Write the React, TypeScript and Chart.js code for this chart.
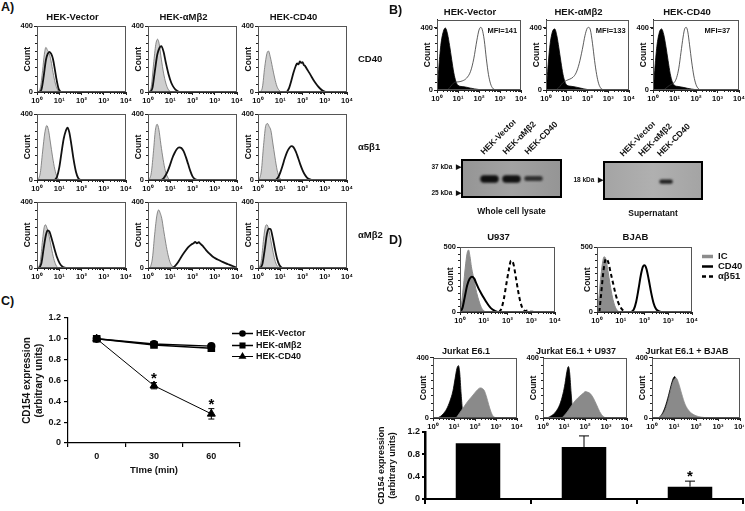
import React, { useEffect, useRef } from 'react';
import { Chart, registerables } from 'chart.js';

Chart.register(...registerables);

const FONT = '"Liberation Sans", Arial, Helvetica, sans-serif';
Chart.defaults.font.family = FONT;
(Chart.defaults.font as any).weight = 'bold';
Chart.defaults.color = '#111';

type Pt = [number, number];

// ---------------- DATA ----------------
const DECADES = [0, 1, 2, 3, 4];
const DECADE_LABELS = ['10⁰', '10¹', '10²', '10³', '10⁴'];

const A_COLUMNS = ['HEK-Vector', 'HEK-αMβ2', 'HEK-CD40'];
const A_ROWS = ['CD40', 'α5β1', 'αMβ2'];
const A_Y_TICKS = [0, 400];

// Panel A, row CD40
const A1_VEC_IC: Pt[] = [[0.05,0],[0.15,25],[0.25,130],[0.33,230],[0.4,272],[0.47,255],[0.55,235],[0.63,190],[0.72,120],[0.82,55],[0.92,15],[1.0,0]];
const A1_VEC_AB: Pt[] = [[0.1,0],[0.2,15],[0.3,95],[0.4,195],[0.48,232],[0.56,245],[0.64,232],[0.72,200],[0.8,140],[0.88,75],[0.96,25],[1.06,0]];
const A1_AMB2_IC: Pt[] = [[0.05,0],[0.15,35],[0.25,170],[0.35,290],[0.43,322],[0.5,295],[0.6,200],[0.7,115],[0.8,55],[0.9,18],[1.02,0]];
const A1_AMB2_AB: Pt[] = [[0.1,0],[0.2,25],[0.3,120],[0.42,230],[0.52,270],[0.6,280],[0.7,245],[0.8,180],[0.92,110],[1.05,55],[1.2,20],[1.38,0]];
const A1_CD40_IC: Pt[] = [[0.1,0],[0.2,30],[0.3,150],[0.4,235],[0.47,250],[0.55,215],[0.65,150],[0.75,85],[0.85,35],[0.95,10],[1.05,0]];
const A1_CD40_AB: Pt[] = [[1.3,0],[1.4,25],[1.5,70],[1.6,120],[1.7,160],[1.76,175],[1.82,168],[1.88,186],[1.94,178],[2.0,182],[2.06,165],[2.12,158],[2.2,140],[2.3,118],[2.4,95],[2.5,72],[2.6,52],[2.7,34],[2.8,20],[2.9,9],[3.0,3],[3.1,0]];
// Panel A, row α5β1
const A2_VEC_IC: Pt[] = [[0.05,0],[0.15,45],[0.25,170],[0.35,285],[0.44,330],[0.52,300],[0.6,230],[0.7,140],[0.8,65],[0.9,20],[1.0,0]];
const A2_VEC_AB: Pt[] = [[0.8,0],[0.9,20],[1.0,75],[1.1,165],[1.2,250],[1.3,300],[1.37,318],[1.45,290],[1.55,210],[1.65,120],[1.75,50],[1.85,12],[1.95,0]];
const A2_AMB2_IC: Pt[] = [[0.05,0],[0.15,45],[0.25,180],[0.33,300],[0.41,338],[0.49,305],[0.58,215],[0.68,125],[0.78,55],[0.88,18],[0.98,0]];
const A2_AMB2_AB: Pt[] = [[0.6,0],[0.7,10],[0.8,30],[0.9,58],[1.0,95],[1.1,135],[1.2,165],[1.3,188],[1.4,198],[1.5,194],[1.6,175],[1.7,140],[1.8,98],[1.9,55],[2.0,22],[2.1,6],[2.2,0]];
const A2_CD40_IC: Pt[] = [[0.05,0],[0.15,55],[0.25,210],[0.35,330],[0.43,342],[0.5,325],[0.58,300],[0.66,230],[0.76,140],[0.86,60],[0.96,15],[1.06,0]];
const A2_CD40_AB: Pt[] = [[0.8,0],[0.9,15],[1.0,45],[1.1,85],[1.2,130],[1.3,168],[1.4,192],[1.5,205],[1.6,198],[1.7,172],[1.8,135],[1.9,95],[2.0,60],[2.1,33],[2.2,15],[2.3,5],[2.45,0]];
// Panel A, row αMβ2
const A3_VEC_IC: Pt[] = [[0.05,0],[0.15,40],[0.25,170],[0.32,245],[0.38,262],[0.45,242],[0.55,190],[0.65,120],[0.75,58],[0.85,18],[0.95,0]];
const A3_VEC_AB: Pt[] = [[0.1,0],[0.2,30],[0.3,120],[0.4,200],[0.48,228],[0.56,220],[0.66,178],[0.78,118],[0.9,65],[1.02,28],[1.15,8],[1.3,0]];
const A3_AMB2_IC: Pt[] = [[0.1,0],[0.2,60],[0.3,205],[0.4,320],[0.48,352],[0.55,332],[0.62,300],[0.7,232],[0.8,150],[0.9,80],[1.0,32],[1.1,10],[1.2,0]];
const A3_AMB2_AB: Pt[] = [[1.1,0],[1.2,10],[1.35,35],[1.5,68],[1.65,98],[1.8,125],[1.95,143],[2.05,150],[2.12,158],[2.2,150],[2.28,156],[2.36,146],[2.45,135],[2.6,110],[2.75,88],[2.9,70],[3.05,57],[3.2,47],[3.35,37],[3.5,28],[3.65,20],[3.8,12],[3.92,5],[4.0,0]];
const A3_CD40_IC: Pt[] = [[0.05,0],[0.15,45],[0.25,175],[0.33,250],[0.4,262],[0.48,235],[0.58,165],[0.68,95],[0.78,38],[0.88,10],[0.98,0]];
const A3_CD40_AB: Pt[] = [[0.1,0],[0.2,25],[0.3,110],[0.4,205],[0.48,238],[0.56,236],[0.66,185],[0.76,115],[0.86,55],[0.96,18],[1.08,0]];

// Panel B
const B_TITLES = ['HEK-Vector', 'HEK-αMβ2', 'HEK-CD40'];
const B_MFI = ['MFI=141', 'MFI=133', 'MFI=37'];
const B_Y_TICKS = [0, 400];
const B_VEC_IC: Pt[] = [[0.02,0],[0.08,130],[0.18,285],[0.3,375],[0.4,398],[0.5,360],[0.6,285],[0.7,195],[0.8,110],[0.9,55],[1.0,30],[1.2,22],[1.4,18],[1.6,12],[1.8,7],[2.0,3],[2.2,0]];
const B_VEC_AB: Pt[] = [[0.5,0],[0.6,15],[0.72,35],[0.85,50],[1.0,52],[1.2,58],[1.4,75],[1.6,120],[1.75,200],[1.9,320],[2.0,385],[2.08,402],[2.15,390],[2.25,320],[2.35,200],[2.45,100],[2.55,40],[2.65,12],[2.8,0]];
const B_AMB2_IC: Pt[] = [[0.02,0],[0.08,120],[0.18,275],[0.3,370],[0.42,392],[0.52,350],[0.62,270],[0.72,180],[0.82,100],[0.92,50],[1.02,30],[1.2,24],[1.4,20],[1.6,14],[1.8,8],[2.0,3],[2.2,0]];
const B_AMB2_AB: Pt[] = [[0.5,0],[0.65,20],[0.8,45],[1.0,62],[1.15,70],[1.3,82],[1.45,110],[1.6,170],[1.75,260],[1.88,350],[1.98,395],[2.06,402],[2.14,385],[2.24,300],[2.34,190],[2.44,100],[2.54,40],[2.64,12],[2.78,0]];
const B_CD40_IC: Pt[] = [[0.02,0],[0.08,125],[0.18,280],[0.3,372],[0.4,392],[0.5,355],[0.6,280],[0.7,190],[0.8,105],[0.9,52],[1.0,30],[1.2,22],[1.4,17],[1.6,11],[1.8,6],[2.0,2],[2.2,0]];
const B_CD40_AB: Pt[] = [[0.5,0],[0.6,12],[0.75,28],[0.9,40],[1.0,50],[1.1,80],[1.2,140],[1.3,240],[1.4,340],[1.48,395],[1.55,402],[1.62,372],[1.7,290],[1.8,180],[1.9,90],[2.0,35],[2.1,10],[2.2,0]];

// Panel B western blots (band extents in kDa)
const WCL_LANES = ['HEK-Vector', 'HEK-αMβ2', 'HEK-CD40'];
const WCL_BANDS: ([number, number] | null)[] = [[29.8, 33.2], [29.8, 33.2], [30.5, 32.8]];
const WCL_SHADES = ['rgba(10,10,10,0.97)', 'rgba(10,10,10,0.95)', 'rgba(25,25,25,0.82)'];
const WCL_MARKERS = [37, 25];
const SUP_LANES = ['HEK-Vector', 'HEK-αMβ2', 'HEK-CD40'];
const SUP_BANDS: ([number, number] | null)[] = [null, null, [17.3, 18.2]];
const SUP_SHADES = ['rgba(0,0,0,0)', 'rgba(0,0,0,0)', 'rgba(20,20,20,0.92)'];
const SUP_MARKERS = [18];

// Panel C
const C_TIMES = ['0', '30', '60'];
const C_VECTOR = [1.0, 0.95, 0.93];
const C_AMB2 = [1.0, 0.94, 0.91];
const C_CD40 = [1.0, 0.55, 0.28];
const C_VECTOR_ERR = [0.01, 0.01, 0.01];
const C_AMB2_ERR = [0.01, 0.01, 0.02];
const C_CD40_ERR = [0.01, 0.03, 0.05];
const C_CD40_SIG = [false, true, true];

// Panel D
const D_TOP_TITLES = ['U937', 'BJAB'];
const D_LEGEND = ['IC', 'CD40', 'αβ51'];
const D_TOP_Y_TICKS = [0, 500];
const D_U937_IC: Pt[] = [[0.02,0],[0.08,90],[0.15,210],[0.22,340],[0.3,455],[0.36,480],[0.42,430],[0.48,350],[0.55,285],[0.62,220],[0.7,150],[0.8,85],[0.9,35],[1.0,10],[1.08,0]];
const D_U937_CD40: Pt[] = [[0.0,0],[0.1,30],[0.2,115],[0.3,205],[0.4,255],[0.5,272],[0.6,258],[0.7,215],[0.8,175],[0.9,142],[1.0,110],[1.1,80],[1.2,52],[1.3,30],[1.45,10],[1.6,0]];
const D_U937_AB51: Pt[] = [[1.65,0],[1.75,30],[1.85,105],[1.95,215],[2.05,320],[2.15,398],[2.25,372],[2.35,270],[2.45,160],[2.55,72],[2.65,22],[2.75,8],[2.85,12],[2.95,5],[3.1,0]];
const D_BJAB_IC: Pt[] = [[0.02,0],[0.08,110],[0.15,250],[0.22,365],[0.3,428],[0.38,405],[0.46,320],[0.55,215],[0.65,115],[0.75,48],[0.85,14],[0.95,0]];
const D_BJAB_CD40: Pt[] = [[1.45,0],[1.55,20],[1.65,80],[1.75,180],[1.85,290],[1.93,350],[2.0,362],[2.08,335],[2.18,250],[2.28,150],[2.38,70],[2.48,25],[2.6,6],[2.7,0]];
const D_BJAB_AB51: Pt[] = [[0.1,0],[0.18,150],[0.28,330],[0.38,412],[0.48,382],[0.58,300],[0.68,220],[0.78,140],[0.88,80],[0.98,40],[1.08,15],[1.2,0]];

const D_J_TITLES = ['Jurkat E6.1', 'Jurkat E6.1 + U937', 'Jurkat E6.1 + BJAB'];
const D_J_Y_TICKS = [0, 400];
const D_J1_IC: Pt[] = [[0.2,0],[0.35,10],[0.5,30],[0.65,60],[0.8,110],[0.95,180],[1.05,260],[1.14,330],[1.21,348],[1.27,305],[1.34,160],[1.41,45],[1.5,0]];
const D_J1_CD154: Pt[] = [[1.1,0],[1.2,20],[1.35,50],[1.5,80],[1.65,110],[1.8,135],[1.95,160],[2.1,185],[2.25,200],[2.35,196],[2.45,180],[2.55,140],[2.65,90],[2.75,45],[2.85,15],[3.0,0]];
const D_J2_IC: Pt[] = [[0.2,0],[0.4,15],[0.6,40],[0.8,90],[0.95,160],[1.05,230],[1.14,310],[1.21,342],[1.27,300],[1.34,165],[1.41,50],[1.5,0]];
const D_J2_CD154: Pt[] = [[0.9,0],[1.0,15],[1.15,40],[1.3,70],[1.45,100],[1.6,125],[1.75,145],[1.9,162],[2.02,176],[2.12,172],[2.25,162],[2.4,132],[2.55,88],[2.7,42],[2.85,12],[3.0,0]];
const D_J3_IC: Pt[] = [[0.3,0],[0.45,25],[0.6,75],[0.75,150],[0.88,225],[0.98,268],[1.04,275],[1.1,235],[1.18,130],[1.28,40],[1.38,0]];
const D_J3_CD154: Pt[] = [[0.3,0],[0.45,18],[0.6,55],[0.75,125],[0.9,215],[1.0,255],[1.1,265],[1.2,235],[1.35,160],[1.5,92],[1.7,45],[1.9,22],[2.1,10],[2.4,3],[2.6,0]];

const D_BAR_LABELS = ['Jurkat E6.1', 'Jurkat E6.1 + U937', 'Jurkat E6.1 + BJAB'];
const D_BAR_VALUES = [1.0, 0.93, 0.22];
const D_BAR_ERR = [0, 0.2, 0.1];
const D_BAR_SIG = [false, false, true];

// ---------------- PLUGINS ----------------
const raw = (chart: any, id: string) => chart.config.options?.plugins?.[id];

function drawMarker(ctx: CanvasRenderingContext2D, style: string, x: number, y: number, r: number) {
  ctx.fillStyle = '#000';
  ctx.beginPath();
  if (style === 'rect') {
    const s = r * Math.SQRT1_2;
    ctx.rect(x - s, y - s, 2 * s, 2 * s);
  } else if (style === 'triangle') {
    ctx.moveTo(x, y - r);
    ctx.lineTo(x + r * 0.866, y + r * 0.5);
    ctx.lineTo(x - r * 0.866, y + r * 0.5);
    ctx.closePath();
  } else {
    ctx.arc(x, y, r, 0, Math.PI * 2);
  }
  ctx.fill();
}

const framePlugin = {
  id: 'frame',
  afterDraw(chart: any) {
    const o = raw(chart, 'frame');
    if (!o || !o.enabled) return;
    const { ctx, chartArea: a } = chart;
    const xs = chart.scales.x;
    const ys = chart.scales.y;
    ctx.save();
    ctx.strokeStyle = '#555';
    ctx.lineWidth = 1;
    ctx.strokeRect(Math.round(a.left) + 0.5, Math.round(a.top) + 0.5, Math.round(a.right - a.left) - 1, Math.round(a.bottom - a.top) - 1);
    ctx.strokeStyle = '#222';
    ctx.beginPath();
    for (let d = xs.min; d < xs.max; d++) {
      for (let k = 2; k < 10; k++) {
        const px = Math.round(xs.getPixelForValue(d + Math.log10(k))) + 0.5;
        ctx.moveTo(px, a.bottom);
        ctx.lineTo(px, a.bottom + 2);
      }
    }
    for (let v = o.minorY; v < ys.max; v += o.minorY) {
      const py = Math.round(ys.getPixelForValue(v)) + 0.5;
      ctx.moveTo(a.left - 2, py);
      ctx.lineTo(a.left, py);
    }
    ctx.stroke();
    if (o.note) {
      ctx.fillStyle = '#111';
      ctx.font = `bold 7.5px ${FONT}`;
      ctx.textAlign = 'left';
      ctx.textBaseline = 'middle';
      ctx.fillText(o.note, a.left + (a.right - a.left) * 0.6, a.top + 11);
    }
    ctx.restore();
  },
};

const errPlugin = {
  id: 'errBars',
  afterDatasetsDraw(chart: any) {
    const o = raw(chart, 'errBars');
    if (!o || !o.items) return;
    const { ctx } = chart;
    ctx.save();
    o.items.forEach((it: any) => {
      const meta = chart.getDatasetMeta(it.dataset);
      const ys = chart.scales[meta.yAxisID];
      const vals = chart.data.datasets[it.dataset].data;
      meta.data.forEach((el: any, i: number) => {
        const v = vals[i];
        const e = it.err[i] || 0;
        const x = el.x;
        const yHi = ys.getPixelForValue(v + e);
        const yLo = it.upOnly ? el.y : ys.getPixelForValue(v - e);
        ctx.strokeStyle = '#000';
        ctx.lineWidth = it.lineWidth || 1;
        if (e > 0) {
          ctx.beginPath();
          ctx.moveTo(x, yLo);
          ctx.lineTo(x, yHi);
          ctx.moveTo(x - it.cap, yHi);
          ctx.lineTo(x + it.cap, yHi);
          if (!it.upOnly) {
            ctx.moveTo(x - it.cap, yLo);
            ctx.lineTo(x + it.cap, yLo);
          }
          ctx.stroke();
        }
        if (it.sig && it.sig[i]) {
          ctx.fillStyle = '#000';
          ctx.font = `bold ${it.starSize}px ${FONT}`;
          ctx.textAlign = 'center';
          ctx.textBaseline = 'alphabetic';
          ctx.fillText('*', x, yHi + it.starDy);
        }
      });
    });
    ctx.restore();
  },
};

const legendPlugin = {
  id: 'sideLegend',
  afterDraw(chart: any) {
    const o = raw(chart, 'sideLegend');
    if (!o || !o.display) return;
    const { ctx, chartArea: a } = chart;
    const x0 = a.right + o.dx;
    ctx.save();
    ctx.font = `bold ${o.fontSize}px ${FONT}`;
    ctx.textBaseline = 'middle';
    ctx.textAlign = 'left';
    chart.data.datasets.forEach((ds: any, i: number) => {
      const y = Math.round(a.top + o.dy + i * o.rowH) + 0.5;
      ctx.strokeStyle = ds.borderColor;
      ctx.lineWidth = o.lineWidths ? o.lineWidths[i] : ds.borderWidth;
      ctx.setLineDash(ds.borderDash || []);
      ctx.beginPath();
      ctx.moveTo(x0, y);
      ctx.lineTo(x0 + o.lineLen, y);
      ctx.stroke();
      ctx.setLineDash([]);
      if (o.markers) drawMarker(ctx, ds.pointStyle, x0 + o.lineLen / 2, y, ds.pointRadius);
      ctx.fillStyle = '#111';
      ctx.fillText(ds.label, x0 + o.lineLen + o.gap, y);
    });
    ctx.restore();
  },
};

const blotPlugin = {
  id: 'blot',
  beforeDatasetsDraw(chart: any) {
    const o = raw(chart, 'blot');
    if (!o || !o.bg) return;
    const { ctx, chartArea: a } = chart;
    ctx.save();
    const g = ctx.createLinearGradient(a.left, 0, a.right, 0);
    g.addColorStop(0, o.edge);
    g.addColorStop(0.5, o.bg);
    g.addColorStop(1, o.edge);
    ctx.fillStyle = g;
    ctx.fillRect(a.left, a.top, a.right - a.left, a.bottom - a.top);
    ctx.restore();
    ctx.save();
    ctx.filter = `blur(${o.blur}px)`;
  },
  afterDatasetsDraw(chart: any) {
    const o = raw(chart, 'blot');
    if (!o || !o.bg) return;
    const { ctx, chartArea: a } = chart;
    ctx.restore();
    ctx.save();
    ctx.strokeStyle = '#000';
    ctx.lineWidth = 2;
    ctx.strokeRect(a.left, a.top, a.right - a.left, a.bottom - a.top);
    ctx.restore();
  },
};

Chart.register(framePlugin, errPlugin, legendPlugin, blotPlugin);

// ---------------- HISTOGRAM BUILDER ----------------
const KIND_STYLE: Record<string, any> = {
  ic: { borderColor: '#707070', backgroundColor: '#cfcfcf', borderWidth: 0.8, fill: 'origin' },
  ab: { borderColor: '#111', borderWidth: 1.8, fill: false },
  blackFill: { borderColor: '#000', backgroundColor: '#000', borderWidth: 0.8, fill: 'origin' },
  thin: { borderColor: '#333', borderWidth: 0.8, fill: false },
  icDark: { borderColor: '#8c8c8c', backgroundColor: '#8c8c8c', borderWidth: 1, fill: 'origin' },
  solid: { borderColor: '#000', borderWidth: 2, fill: false },
  dash: { borderColor: '#000', borderWidth: 2, borderDash: [4, 3], fill: false },
  greyFill: { borderColor: '#8a8a8a', backgroundColor: '#8a8a8a', borderWidth: 0.8, fill: 'origin' },
};

interface Curve { data: Pt[]; kind: string; label?: string }
interface HistSpec {
  l: number; t: number; w: number; h: number;
  yMax: number; yTicks: number[];
  title?: string; titleSize?: number; titleGap?: number;
  curves: Curve[]; note?: string; legend?: any; padR?: number;
}

const Y_W = 18;
const X_H = 14;

function histBox(s: HistSpec) {
  const titleSize = s.titleSize ?? 9.5;
  const gap = s.titleGap ?? 3;
  const padT = s.title ? 1 : 5;
  const topOff = padT + (s.title ? titleSize * 1.2 + gap : 0);
  const padR = s.padR ?? 9;
  const n = s.curves.length;
  const config: any = {
    type: 'line',
    data: {
      datasets: s.curves.map((c, i) => ({
        label: c.label ?? '',
        data: c.data.map(([x, y]) => ({ x, y })),
        order: n - i,
        pointRadius: 0,
        cubicInterpolationMode: 'monotone',
        ...KIND_STYLE[c.kind],
      })),
    },
    options: {
      animation: false,
      responsive: false,
      devicePixelRatio: 1,
      events: [],
      layout: { padding: { top: padT, right: padR, bottom: 0, left: 0 } },
      plugins: {
        legend: { display: false },
        tooltip: { enabled: false },
        title: {
          display: !!s.title,
          text: s.title ?? '',
          font: { size: titleSize, weight: 'bold' },
          color: '#111',
          padding: { top: 0, bottom: gap },
        },
        frame: { enabled: true, minorY: 50, note: s.note ?? '' },
        sideLegend: s.legend ?? { display: false },
      },
      scales: {
        x: {
          type: 'linear', min: 0, max: 4,
          afterBuildTicks: (sc: any) => { sc.ticks = DECADES.map((v) => ({ value: v })); },
          ticks: { callback: (v: any) => DECADE_LABELS[DECADES.indexOf(v)] ?? '', font: { size: 7.5 }, padding: 1, maxRotation: 0, autoSkip: false },
          grid: { drawOnChartArea: false, tickLength: 3, color: '#222' },
          border: { color: '#222' },
          afterFit: (sc: any) => { sc.height = X_H; sc.paddingLeft = 0; sc.paddingRight = 0; },
        },
        y: {
          type: 'linear', min: 0, max: s.yMax,
          afterBuildTicks: (sc: any) => { sc.ticks = s.yTicks.map((v) => ({ value: v })); },
          ticks: { font: { size: 7.5 }, padding: 1 },
          grid: { drawOnChartArea: false, tickLength: 3, color: '#222' },
          border: { color: '#222' },
          title: { display: true, text: 'Count', font: { size: 8.5 }, padding: { top: 4, bottom: 0 } },
          afterFit: (sc: any) => { sc.width = Y_W; sc.paddingTop = 0; sc.paddingBottom = 0; },
        },
      },
    },
  };
  return { left: s.l - Y_W, top: s.t - topOff, width: Y_W + s.w + padR, height: topOff + s.h + X_H, config };
}

// ---------------- BLOT BUILDER ----------------
function blotBox(b: any) {
  const topH = 40;
  const botH = 20;
  const config: any = {
    type: 'bar',
    data: {
      datasets: [{
        data: b.bands.map((y: any, i: number) => ({ x: i + 1, y })),
        backgroundColor: b.shades,
        borderWidth: 0,
        borderRadius: 6,
        borderSkipped: false,
        barPercentage: b.barPct,
        categoryPercentage: 1,
        xAxisID: 'x',
        yAxisID: 'y',
      }],
    },
    options: {
      animation: false, responsive: false, devicePixelRatio: 1, events: [],
      layout: { padding: { top: 0, right: b.padR, bottom: 0, left: 0 } },
      plugins: { legend: { display: false }, tooltip: { enabled: false }, blot: { bg: b.bg, edge: b.edge, blur: 1.1 } },
      scales: {
        x: {
          type: 'linear', position: 'top', min: b.xMin, max: b.xMax,
          afterBuildTicks: (sc: any) => { sc.ticks = b.lanes.map((_: any, i: number) => ({ value: i + 1 })); },
          ticks: { callback: (v: any) => b.lanes[v - 1] ?? '', font: { size: 8.5 }, minRotation: 45, maxRotation: 45, padding: 3, autoSkip: false },
          grid: { display: false, drawTicks: false },
          border: { display: false },
          afterFit: (sc: any) => { sc.height = topH; sc.paddingLeft = 0; sc.paddingRight = 0; },
        },
        xb: {
          type: 'linear', position: 'bottom', min: b.xMin, max: b.xMax,
          ticks: { display: false },
          grid: { display: false, drawTicks: false },
          border: { display: false },
          title: { display: true, text: b.caption, font: { size: 8.5 }, padding: { top: 0, bottom: 0 } },
          afterFit: (sc: any) => { sc.height = botH; sc.paddingLeft = 0; sc.paddingRight = 0; },
        },
        y: {
          min: b.yMin, max: b.yMax,
          afterBuildTicks: (sc: any) => { sc.ticks = b.markers.map((v: number) => ({ value: v })); },
          ticks: { callback: (v: any) => `${v} kDa  ▶`, font: { size: 6.5 }, padding: 1 },
          grid: { display: false, drawTicks: false },
          border: { display: false },
          afterFit: (sc: any) => { sc.width = b.yW; sc.paddingTop = 0; sc.paddingBottom = 0; },
        },
      },
    },
  };
  return { left: b.l - b.yW, top: b.t - topH, width: b.yW + b.w + b.padR, height: topH + b.h + botH, config };
}

// ---------------- PANEL C ----------------
function lineBox() {
  const left = 16, top = 310, yW = 52, padT = 8, xH = 36, padR = 100;
  const areaW = 172, areaH = 125;
  const config: any = {
    type: 'line',
    data: {
      labels: C_TIMES,
      datasets: [
        { label: 'HEK-Vector', data: C_VECTOR, pointStyle: 'circle', pointRadius: 3.3, borderColor: '#000', backgroundColor: '#000', borderWidth: 1.5 },
        { label: 'HEK-αMβ2', data: C_AMB2, pointStyle: 'rect', pointRadius: 4.3, borderColor: '#000', backgroundColor: '#000', borderWidth: 1.5 },
        { label: 'HEK-CD40', data: C_CD40, pointStyle: 'triangle', pointRadius: 4.6, borderColor: '#000', backgroundColor: '#000', borderWidth: 1 },
      ],
    },
    options: {
      animation: false, responsive: false, devicePixelRatio: 1, events: [],
      layout: { padding: { top: padT, right: padR, bottom: 0, left: 0 } },
      plugins: {
        legend: { display: false }, tooltip: { enabled: false },
        errBars: { items: [
          { dataset: 0, err: C_VECTOR_ERR, cap: 3 },
          { dataset: 1, err: C_AMB2_ERR, cap: 3 },
          { dataset: 2, err: C_CD40_ERR, sig: C_CD40_SIG, cap: 3, starSize: 15, starDy: 0 },
        ] },
        sideLegend: { display: true, dx: -8, dy: 15, rowH: 11.5, lineLen: 21, gap: 3, fontSize: 9, markers: true },
      },
      scales: {
        x: {
          type: 'category', offset: true,
          grid: { offset: true, drawOnChartArea: false, tickLength: 4, color: '#000', lineWidth: 1.2 },
          border: { color: '#000', width: 1.2 },
          ticks: { font: { size: 9 }, padding: 4 },
          title: { display: true, text: 'TIme (min)', font: { size: 9.5 }, padding: { top: 0, bottom: 3 } },
          afterFit: (sc: any) => { sc.height = xH; sc.paddingLeft = 0; sc.paddingRight = 0; },
        },
        y: {
          min: 0, max: 1.2,
          ticks: { stepSize: 0.2, font: { size: 9 }, padding: 3 },
          grid: { drawOnChartArea: false, tickLength: 4, color: '#000', lineWidth: 1.2 },
          border: { color: '#000', width: 1.2 },
          title: { display: true, text: ['CD154 expression', '(arbitrary units)'], font: { size: 10 }, padding: { top: 5, bottom: 0 } },
          afterFit: (sc: any) => { sc.width = yW; sc.paddingTop = 0; sc.paddingBottom = 0; },
        },
      },
    },
  };
  return { left, top, width: yW + areaW + padR, height: padT + areaH + xH, config };
}

// ---------------- PANEL D BAR ----------------
function barBox() {
  const left = 375, top = 426, yW = 50, padT = 6, xH = 7, padR = 2;
  const areaW = 318, areaH = 67;
  const config: any = {
    type: 'bar',
    data: { labels: D_BAR_LABELS, datasets: [{ data: D_BAR_VALUES, backgroundColor: '#000', barPercentage: 0.42, categoryPercentage: 1 }] },
    options: {
      animation: false, responsive: false, devicePixelRatio: 1, events: [],
      layout: { padding: { top: padT, right: padR, bottom: 0, left: 0 } },
      plugins: {
        legend: { display: false }, tooltip: { enabled: false },
        errBars: { items: [{ dataset: 0, err: D_BAR_ERR, sig: D_BAR_SIG, upOnly: true, cap: 5, starSize: 15, starDy: 0 }] },
      },
      scales: {
        x: {
          grid: { offset: true, drawOnChartArea: false, tickLength: 5, color: '#000', lineWidth: 2 },
          border: { color: '#000', width: 2 },
          ticks: { display: false },
          afterFit: (sc: any) => { sc.height = xH; sc.paddingLeft = 0; sc.paddingRight = 0; },
        },
        y: {
          min: 0, max: 1.2,
          ticks: { stepSize: 0.2, font: { size: 9 }, padding: 2 },
          grid: { drawOnChartArea: false, tickLength: 3, color: '#000', lineWidth: 2 },
          border: { color: '#000', width: 2.5 },
          title: { display: true, text: ['CD154 expression', '(arbitrary units)'], font: { size: 9 }, padding: { top: 1, bottom: 0 } },
          afterFit: (sc: any) => { sc.width = yW; sc.paddingTop = 0; sc.paddingBottom = 0; },
        },
      },
    },
  };
  return { left, top, width: yW + areaW + padR, height: padT + areaH + xH, config };
}

// ---------------- LAYOUT ----------------
const A_COL_L = [37, 148, 258];
const A_ROW_T = [26, 114, 202];
const A_W = 89, A_H = 66;
const A_CURVES: Pt[][][] = [
  [[A1_VEC_IC, A1_VEC_AB], [A1_AMB2_IC, A1_AMB2_AB], [A1_CD40_IC, A1_CD40_AB]],
  [[A2_VEC_IC, A2_VEC_AB], [A2_AMB2_IC, A2_AMB2_AB], [A2_CD40_IC, A2_CD40_AB]],
  [[A3_VEC_IC, A3_VEC_AB], [A3_AMB2_IC, A3_AMB2_AB], [A3_CD40_IC, A3_CD40_AB]],
];

function buildAll() {
  const boxes: any[] = [];
  A_ROW_T.forEach((t, r) => {
    A_COL_L.forEach((l, c) => {
      boxes.push(histBox({
        l, t, w: A_W, h: A_H, yMax: 400, yTicks: A_Y_TICKS,
        title: r === 0 ? A_COLUMNS[c] : undefined,
        curves: [{ data: A_CURVES[r][c][0], kind: 'ic' }, { data: A_CURVES[r][c][1], kind: 'ab' }],
      }));
    });
  });
  const bL = [437, 546, 653];
  const bW = [84, 83, 86];
  const bCurves = [[B_VEC_IC, B_VEC_AB], [B_AMB2_IC, B_AMB2_AB], [B_CD40_IC, B_CD40_AB]];
  bL.forEach((l, i) => {
    boxes.push(histBox({
      l, t: 20, w: bW[i], h: 70, yMax: 450, yTicks: B_Y_TICKS, title: B_TITLES[i], titleGap: 1.5,
      curves: [{ data: bCurves[i][0], kind: 'blackFill' }, { data: bCurves[i][1], kind: 'thin' }],
      note: B_MFI[i], padR: i === 2 ? 6 : 9,
    }));
  });
  const dL = [460, 597];
  const dCurves = [[D_U937_IC, D_U937_CD40, D_U937_AB51], [D_BJAB_IC, D_BJAB_CD40, D_BJAB_AB51]];
  dL.forEach((l, i) => {
    boxes.push(histBox({
      l, t: 247, w: 95, h: 65, yMax: 500, yTicks: D_TOP_Y_TICKS, title: D_TOP_TITLES[i], titleGap: 4,
      curves: [
        { data: dCurves[i][0], kind: 'icDark', label: D_LEGEND[0] },
        { data: dCurves[i][1], kind: 'solid', label: D_LEGEND[1] },
        { data: dCurves[i][2], kind: 'dash', label: D_LEGEND[2] },
      ],
      padR: i === 1 ? 53 : 9,
      legend: i === 1 ? { display: true, dx: 10, dy: 9, rowH: 10, lineLen: 11, gap: 5, fontSize: 9.5, lineWidths: [3.5, 2.5, 2.5] } : undefined,
    }));
  });
  const jL = [433, 543, 652];
  const jW = [84, 84, 88];
  const jCurves = [[D_J1_IC, D_J1_CD154], [D_J2_IC, D_J2_CD154], [D_J3_IC, D_J3_CD154]];
  jL.forEach((l, i) => {
    boxes.push(histBox({
      l, t: 358, w: jW[i], h: 60, yMax: 400, yTicks: D_J_Y_TICKS, title: D_J_TITLES[i], titleSize: 9, titleGap: 1,
      curves: [{ data: jCurves[i][0], kind: 'blackFill' }, { data: jCurves[i][1], kind: 'greyFill' }],
      padR: i === 2 ? 4 : 9,
    }));
  });
  boxes.push(blotBox({
    l: 462, t: 160, w: 99, h: 37, yW: 42, padR: 30, xMin: 0.5, xMax: 3.5, yMin: 23.2, yMax: 40.2,
    lanes: WCL_LANES, bands: WCL_BANDS, shades: WCL_SHADES, markers: WCL_MARKERS, caption: 'Whole cell lysate',
    bg: '#a2a2a2', edge: '#959595', barPct: 0.84,
  }));
  boxes.push(blotBox({
    l: 604, t: 162, w: 98, h: 37, yW: 40, padR: 43, xMin: 0.55, xMax: 4.05, yMin: 14, yMax: 22,
    lanes: SUP_LANES, bands: SUP_BANDS, shades: SUP_SHADES, markers: SUP_MARKERS, caption: 'Supernatant',
    bg: '#b0b0b0', edge: '#a4a4a4', barPct: 0.72,
  }));
  boxes.push(lineBox());
  boxes.push(barBox());
  return boxes;
}

function ChartCanvas({ left, top, width, height, config }: any) {
  const ref = useRef<HTMLCanvasElement | null>(null);
  useEffect(() => {
    const chart = new Chart(ref.current as HTMLCanvasElement, config);
    return () => chart.destroy();
  }, []);
  return (
    <canvas
      ref={ref}
      width={Math.round(width)}
      height={Math.round(height)}
      style={{ position: 'absolute', left, top, width: Math.round(width), height: Math.round(height) }}
    />
  );
}

function Txt({ x, y, size, children }: any) {
  return (
    <div style={{ position: 'absolute', left: x, top: y, fontSize: size, fontWeight: 'bold', lineHeight: 1, whiteSpace: 'nowrap', fontFamily: FONT, color: '#111' }}>
      {children}
    </div>
  );
}

export default function App() {
  const boxes = buildAll();
  return (
    <div style={{ position: 'absolute', left: 0, top: 0, width: 745, height: 511, background: '#fff', overflow: 'hidden', fontFamily: FONT }}>
      {boxes.map((b, i) => <ChartCanvas key={i} {...b} />)}
      <Txt x={1} y={1} size={12.5}>A)</Txt>
      <Txt x={389} y={4} size={12.5}>B)</Txt>
      <Txt x={1} y={295} size={12.5}>C)</Txt>
      <Txt x={389} y={234} size={12.5}>D)</Txt>
      {A_ROWS.map((r, i) => (
        <Txt key={r} x={358} y={A_ROW_T[i] + A_H / 2 - 5} size={9.5}>{r}</Txt>
      ))}
    </div>
  );
}
